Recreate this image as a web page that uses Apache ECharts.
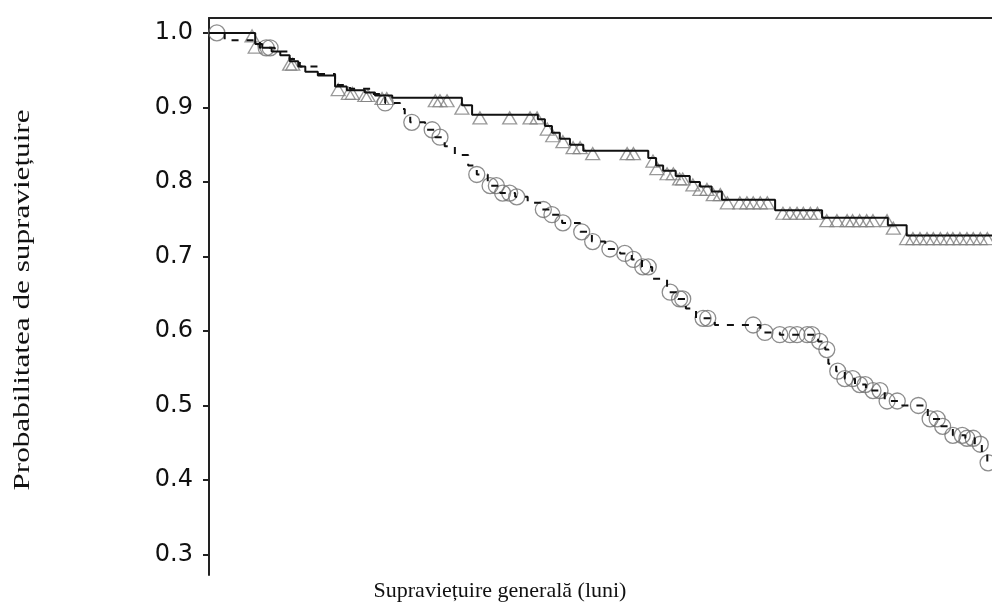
<!DOCTYPE html>
<html>
<head>
<meta charset="utf-8">
<script src="https://cdn.jsdelivr.net/npm/echarts@6/dist/echarts.min.js"></script>
<style>
  html, body { margin: 0; padding: 0; background: #fff; }
  #chart { width: 992px; height: 606px; }
</style>
</head>
<body>
<div id="chart"></div>
<script>
// Kaplan-Meier survival curves (months on x, survival probability on y)

// Group A (solid line, triangle censor marks): step times and survival after each step
const solidTimes = [0, 5.9, 6.8, 8.0, 9.1, 10.3, 11.4, 12.3, 13.9, 16.1, 17.6, 19.9, 21.2, 23.4,
  32.3, 33.6, 42.0, 42.9, 43.8, 44.8, 46.1, 47.8, 56.1, 57.1, 58.0, 59.6, 61.4, 62.7, 64.2,
  65.5, 72.3, 78.3, 86.7, 89.1, 100];
const solidSurv = [1.000, 0.985, 0.980, 0.975, 0.970, 0.962, 0.955, 0.948, 0.943, 0.928, 0.923,
  0.920, 0.916, 0.913, 0.903, 0.890, 0.884, 0.875, 0.866, 0.858, 0.850, 0.842, 0.832, 0.822,
  0.815, 0.808, 0.800, 0.794, 0.787, 0.776, 0.762, 0.752, 0.742, 0.728, 0.728];

// Group B (dashed line, circle censor marks)
const dashedTimes = [0, 2.0, 6.5, 8.4, 10.3, 11.6, 13.9, 16.1, 18.0, 20.6, 22.5, 24.4, 25.0, 25.7,
  27.6, 28.9, 30.1, 31.4, 33.1, 34.2, 35.6, 37.2, 39.1, 40.7, 42.3, 43.8, 45.1, 47.4, 48.9,
  50.6, 52.5, 54.0, 55.3, 56.6, 58.5, 59.9, 60.9, 62.2, 64.6, 70.4, 72.9, 77.8, 78.7, 79.1,
  80.1, 81.2, 82.5, 83.9, 86.3, 88.0, 91.8, 93.4, 95.0, 96.6, 97.8, 98.7, 99.4, 100];
const dashedSurv = [1.000, 0.990, 0.980, 0.975, 0.965, 0.955, 0.945, 0.930, 0.925, 0.918, 0.906,
  0.898, 0.890, 0.880, 0.870, 0.860, 0.848, 0.836, 0.822, 0.810, 0.795, 0.785, 0.780, 0.772,
  0.763, 0.756, 0.745, 0.733, 0.720, 0.710, 0.704, 0.696, 0.686, 0.670, 0.652, 0.643, 0.630,
  0.617, 0.608, 0.598, 0.595, 0.586, 0.575, 0.556, 0.546, 0.536, 0.528, 0.520, 0.506, 0.500,
  0.482, 0.472, 0.460, 0.456, 0.448, 0.436, 0.423, 0.423];

// Censoring times
const triangleCensor = [5.5, 5.9, 10.3, 10.7, 16.5, 17.8, 18.3, 19.9, 20.3, 22.1, 22.7, 28.9,
  29.5, 30.4, 32.3, 34.6, 38.4, 41.0, 41.9, 43.2, 43.9, 45.2, 46.5, 47.4, 49.0, 53.4, 54.2,
  56.7, 57.2, 58.5, 59.3, 60.1, 60.5, 61.8, 62.7, 63.6, 64.4, 65.3, 66.2, 67.8, 68.7, 69.5,
  70.4, 71.3, 73.3, 74.2, 75.1, 75.9, 76.8, 77.7, 78.9, 80.2, 81.5, 82.2, 83.1, 84.0, 84.8,
  86.6, 87.4, 89.1, 89.9, 90.8, 91.7, 92.5, 93.4, 94.3, 95.0, 95.9, 96.8, 97.6, 98.5, 99.4];
const circleCensor = [1.0, 7.3, 7.8, 22.5, 25.9, 28.5, 29.5, 34.2, 35.9, 36.7, 37.5, 38.4, 39.3,
  42.7, 43.8, 45.2, 47.6, 49.0, 51.2, 53.1, 54.2, 55.4, 56.1, 58.9, 60.1, 60.5, 63.1, 63.7,
  69.5, 71.0, 72.9, 74.2, 75.1, 76.4, 77.0, 78.0, 78.9, 80.3, 81.2, 82.2, 83.1, 83.8, 84.8,
  85.7, 86.6, 87.9, 90.6, 92.1, 93.0, 93.7, 95.0, 96.2, 96.8, 97.6, 98.5, 99.5];

const yTicks = [0.3, 0.4, 0.5, 0.6, 0.7, 0.8, 0.9, 1.0];

// survival value of a step curve at time t (value after the last step at or before t)
function survivalAt(times, surv, t) {
  let v = surv[0];
  for (let i = 0; i < times.length; i++) {
    if (times[i] <= t) v = surv[i]; else break;
  }
  return v;
}

const zip = (a, b) => a.map((x, i) => [x, b[i]]);
const solidLine = zip(solidTimes, solidSurv);
const dashedLine = zip(dashedTimes, dashedSurv);
const triangleMarks = triangleCensor.map(t => [t, survivalAt(solidTimes, solidSurv, t)]);
const circleMarks = circleCensor.map(t => [t, survivalAt(dashedTimes, dashedSurv, t)]);

const chart = echarts.init(document.getElementById('chart'), null, { renderer: 'canvas' });

chart.setOption({
  animation: false,
  backgroundColor: '#ffffff',
  grid: { left: 209, top: 18, right: 0, bottom: 31, containLabel: false },
  xAxis: [
    {
      type: 'value', min: 0, max: 100, position: 'bottom',
      axisLine: { show: false }, axisTick: { show: false },
      axisLabel: { show: false }, splitLine: { show: false }
    },
    {
      type: 'value', min: 0, max: 100, position: 'top',
      axisLine: { show: true, onZero: false, lineStyle: { color: '#222', width: 2 } },
      axisTick: { show: false }, axisLabel: { show: false }, splitLine: { show: false }
    }
  ],
  yAxis: {
    type: 'value', min: 0.2725, max: 1.02,
    axisLine: { show: true, onZero: false, lineStyle: { color: '#222', width: 2 } },
    axisTick: { show: true, length: 6, customValues: yTicks, lineStyle: { color: '#222', width: 2 } },
    axisLabel: {
      show: true, customValues: yTicks, margin: 16,
      fontFamily: 'DejaVu Sans', fontSize: 24, color: '#111',
      formatter: v => v.toFixed(1)
    },
    splitLine: { show: false }
  },
  graphic: [
    {
      type: 'text', x: 23, y: 300, rotation: Math.PI / 2, scaleX: 1.3,
      style: {
        text: 'Probabilitatea de supraviețuire',
        font: '24px "Liberation Serif", "Times New Roman", serif',
        fill: '#111', align: 'center', verticalAlign: 'middle'
      }
    },
    {
      type: 'text', x: 500, y: 591,
      style: {
        text: 'Supraviețuire generală (luni)',
        font: '22px "Liberation Serif", "Times New Roman", serif',
        fill: '#111', align: 'center', verticalAlign: 'middle'
      }
    }
  ],
  series: [
    {
      type: 'scatter', data: triangleMarks, symbol: 'triangle', symbolSize: [14, 12],
      symbolOffset: [0, 3], z: 2, silent: true,
      itemStyle: { color: 'rgba(255,255,255,0)', borderColor: '#808080', borderWidth: 1.3 }
    },
    {
      type: 'scatter', data: circleMarks, symbol: 'circle', symbolSize: 16, z: 2, silent: true,
      itemStyle: { color: 'rgba(255,255,255,0)', borderColor: '#707070', borderWidth: 1.3 }
    },
    {
      type: 'line', data: solidLine, step: 'end', showSymbol: false, z: 3, silent: true,
      lineStyle: { color: '#111', width: 2 }
    },
    {
      type: 'line', data: dashedLine, step: 'end', showSymbol: false, z: 3, silent: true,
      lineStyle: { color: '#111', width: 2, type: [7, 8] }
    }
  ]
});
</script>
</body>
</html>
